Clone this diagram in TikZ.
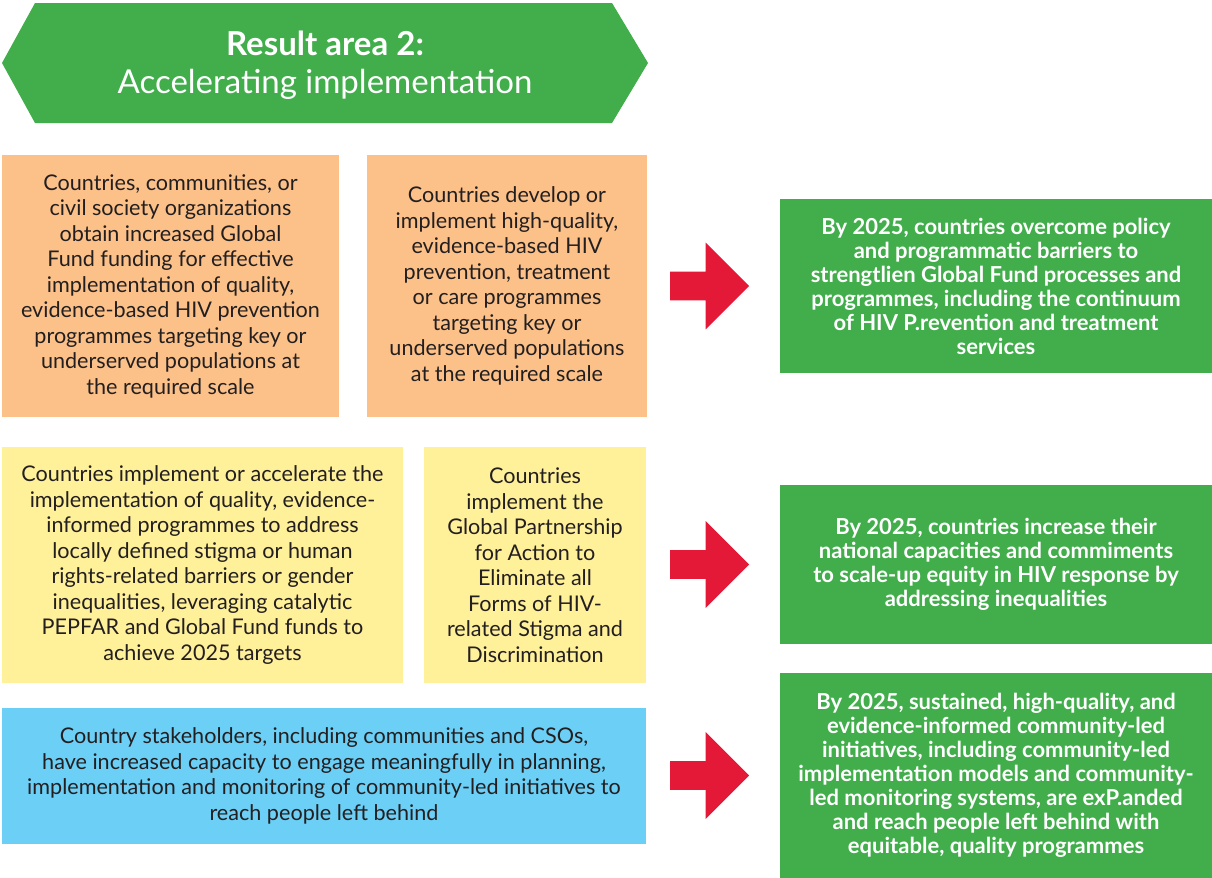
\documentclass[tikz,border=0pt]{standalone}
\usepackage{fontspec}
\setmainfont{Lato}
\definecolor{boxorange}{HTML}{FCC189}
\definecolor{boxyellow}{HTML}{FFF09A}
\definecolor{boxblue}{HTML}{6BCFF6}
\definecolor{resgreen}{HTML}{41AE4B}
\definecolor{arrowred}{HTML}{E31937}
\definecolor{ink}{HTML}{231F20}
\usepackage{xcolor}
\usepackage{tikz}
\usetikzlibrary{shapes.arrows,positioning,calc}
\tikzset{
  sbox/.style={rectangle, inner sep=0pt, align=center, text=ink,
    font=\fontsize{10.8}{12.75}\selectfont},
  obox/.style={sbox, fill=boxorange},
  ybox/.style={sbox, fill=boxyellow},
  bbox/.style={sbox, fill=boxblue},
  gbox/.style={sbox, fill=resgreen, text=white, minimum width=216pt,
    font=\fontsize{11}{12}\selectfont\bfseries},
  rarrow/.style={single arrow, fill=arrowred, inner xsep=0pt, inner ysep=7pt,
    minimum height=39.5pt, minimum width=43pt, single arrow head extend=14.5pt, anchor=tip}
}

\begin{document}
\begin{tikzpicture}[x=0.5pt,y=-0.5pt]
    \useasboundingbox (0,0) rectangle (1212,878);
    % header banner
    \fill[resgreen] (2,63) -- (35,3) -- (612,3) -- (648,63) -- (612,123) -- (35,123) -- cycle;
    \node[align=center, text=white, font=\fontsize{16.5}{19}\selectfont] (hdr) at (325,65)
      {{\fontsize{16.5}{19}\selectfont\bfseries Result area 2:}\\Accelerating implementation};
    % activity boxes
    \node[obox, minimum width=168.5pt, minimum height=131pt] (o1) at (170.5,286)
      {Countries, communities, or\\civil society organizations\\obtain increased Global\\Fund funding for effective\\implementation of quality,\\evidence-based HIV prevention\\programmes targeting key or\\underserved populations at\\the required scale};
    \node[obox, minimum width=140pt, minimum height=131pt] (o2) at (507,286)
      {Countries develop or\\implement high-quality,\\evidence-based HIV\\prevention, treatment\\or care programmes\\targeting key or\\underserved populations\\at the required scale};
    \node[ybox, minimum width=200.5pt, minimum height=118pt] (y1) at (202.5,565)
      {Countries implement or accelerate the\\implementation of quality, evidence-\\informed programmes to address\\locally defined stigma or human\\rights-related barriers or gender\\inequalities, leveraging catalytic\\PEPFAR and Global Fund funds to\\achieve 2025 targets};
    \node[ybox, minimum width=111pt, minimum height=118pt] (y2) at (535,565)
      {Countries\\implement the\\Global Partnership\\for Action to\\Eliminate all\\Forms of HIV-\\related Stigma and\\Discrimination};
    \node[bbox, minimum width=322pt, minimum height=68pt] (b1) at (324,776)
      {Country stakeholders, including communities and CSOs,\\have increased capacity to engage meaningfully in planning,\\implementation and monitoring of community-led initiatives to\\reach people left behind};
    % results
    \node[gbox, minimum height=87pt] (g1) at (996,286)
      {By 2025, countries overcome policy\\and programmatic barriers to\\strengtlien Global Fund processes and\\programmes, including the continuum\\of HIV P.revention and treatment\\services};
    \node[gbox, minimum height=79.5pt] (g2) at (996,564.5)
      {By 2025, countries increase their\\national capacities and commiments\\to scale-up equity in HIV response by\\addressing inequalities};
    \node[gbox, minimum height=102.5pt] (g3) at (996,775.5)
      {By 2025, sustained, high-quality, and\\evidence-informed community-led\\initiatives, including community-led\\implementation models and community-\\led monitoring systems, are exP.anded\\and reach people left behind with\\equitable, quality programmes};
    % arrows
    \node[rarrow] (r1) at ([xshift=-15pt]g1.west) {};
    \node[rarrow] (r2) at ([xshift=-15pt]g2.west) {};
    \node[rarrow] (r3) at ([xshift=-15pt]g3.west) {};
  \end{tikzpicture}
\end{document}
